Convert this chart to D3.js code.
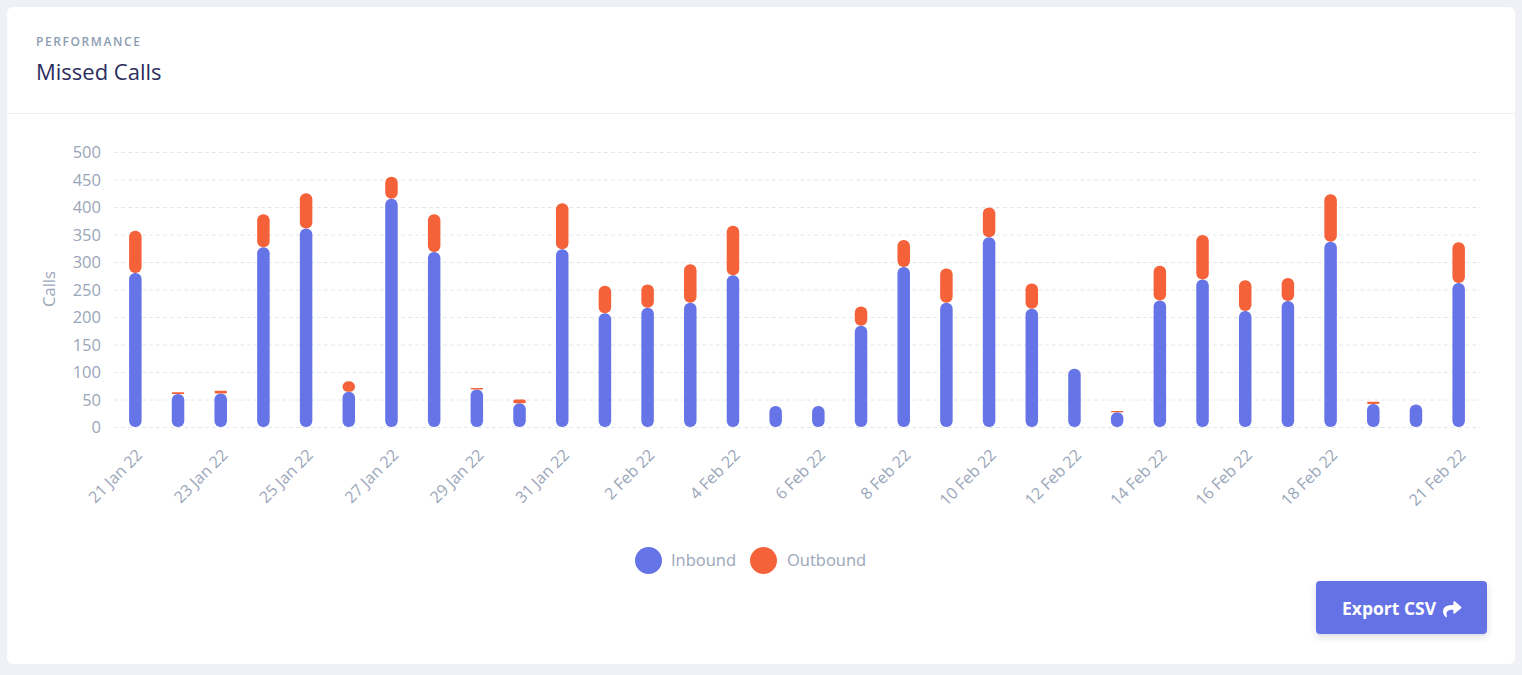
<!DOCTYPE html>
<html>
<head>
<meta charset="utf-8">
<script src="https://cdn.jsdelivr.net/npm/d3@7"></script>
<style>
  html, body { margin: 0; padding: 0; background: #f0f1f7; }
  svg { display: block; font-family: "Open Sans", "Noto Sans", sans-serif; }
</style>
</head>
<body>
<svg id="chart" width="1522" height="675"></svg>
<script>
// ---- data ----
const categories = ["21 Jan 22","22 Jan 22","23 Jan 22","24 Jan 22","25 Jan 22","26 Jan 22","27 Jan 22","28 Jan 22","29 Jan 22","30 Jan 22","31 Jan 22",
  "1 Feb 22","2 Feb 22","3 Feb 22","4 Feb 22","5 Feb 22","6 Feb 22","7 Feb 22","8 Feb 22","9 Feb 22","10 Feb 22","11 Feb 22","12 Feb 22","13 Feb 22","14 Feb 22","15 Feb 22","16 Feb 22","17 Feb 22","18 Feb 22","19 Feb 22","20 Feb 22","21 Feb 22"];
const inbound  = [280, 60, 61, 327, 361, 64, 415, 318, 68, 43, 323, 207, 217, 226, 276, 38, 38, 184, 291, 226, 345, 215, 106, 27, 230, 268, 211, 229, 337, 42, 41, 262];
const outbound = [77, 3, 5, 60, 64, 19, 40, 69, 3, 7, 84, 50, 42, 70, 90, 0, 0, 35, 49, 62, 54, 46, 0, 2, 63, 81, 56, 42, 86, 4, 0, 74];
const xTickLabels = ["21 Jan 22","23 Jan 22","25 Jan 22","27 Jan 22","29 Jan 22","31 Jan 22","2 Feb 22","4 Feb 22","6 Feb 22","8 Feb 22","10 Feb 22","12 Feb 22","14 Feb 22","16 Feb 22","18 Feb 22","21 Feb 22"];
const yTicks = [0, 50, 100, 150, 200, 250, 300, 350, 400, 450, 500];
const seriesNames = ["Inbound", "Outbound"];
const colors = ["#6574e6", "#f5623a"];

// ---- layout ----
const svg = d3.select("#chart");
const plot = { left: 114, right: 1480, top: 152, bottom: 427 };
const barW = 12.5;
const labelColor = "#9aa6b9";

// card
svg.append("rect").attr("x", 7).attr("y", 7).attr("width", 1508).attr("height", 657)
  .attr("rx", 6).attr("fill", "#ffffff");
svg.append("line").attr("x1", 7).attr("x2", 1515).attr("y1", 113.5).attr("y2", 113.5)
  .attr("stroke", "#eceef3").attr("stroke-width", 1);

svg.append("text").attr("x", 36).attr("y", 45.5).text("PERFORMANCE")
  .attr("font-size", 12).attr("font-weight", 600).attr("letter-spacing", "1.6px").attr("fill", "#8e9cb1");
svg.append("text").attr("x", 36).attr("y", 80).text("Missed Calls")
  .attr("font-size", 22).attr("font-weight", 400).attr("fill", "#2b2d5c");

// scales
const x = d3.scaleBand().domain(categories).range([plot.left, plot.right]).padding(0);
const y = d3.scaleLinear().domain([0, 500]).range([plot.bottom, plot.top]);

// grid
svg.append("g").selectAll("line").data(yTicks).join("line")
  .attr("x1", plot.left).attr("x2", plot.right)
  .attr("y1", d => y(d) + 0.5).attr("y2", d => y(d) + 0.5)
  .attr("stroke", "#e6e8ee").attr("stroke-dasharray", "4,3").attr("stroke-width", 1);

// y axis
const yAxis = d3.axisLeft(y).tickValues(yTicks).tickSize(0).tickPadding(0);
const gy = svg.append("g").attr("transform", `translate(101,0)`).call(yAxis);
gy.select(".domain").remove();
gy.selectAll("text").attr("font-size", 16.5).attr("fill", labelColor)
  .attr("font-family", "'Open Sans', sans-serif").attr("dy", "0.34em");

svg.append("text").attr("transform", "translate(55,289) rotate(-90)")
  .attr("text-anchor", "middle").attr("font-size", 16.5).attr("fill", labelColor).text("Calls");

// x axis labels
const xAxis = d3.axisBottom(x).tickValues(xTickLabels).tickSize(0).tickPadding(0);
const gx = svg.append("g").attr("transform", `translate(0,${plot.bottom})`).call(xAxis);
gx.select(".domain").remove();
gx.selectAll(".tick text")
  .attr("font-size", 16).attr("fill", labelColor).attr("font-family", "'Open Sans', sans-serif")
  .attr("text-anchor", "end").attr("y", 0).attr("dy", 0)
  .attr("transform", "translate(8,29) rotate(-45)");

// bars
function roundedRect(g, cx, y0, y1, fill) {
  const h = Math.max(0, y0 - y1);
  if (h <= 0) return;
  const r = Math.min(6, h / 2, barW / 2);
  g.append("rect").attr("x", cx - barW / 2).attr("y", y1).attr("width", barW).attr("height", h)
    .attr("rx", r).attr("ry", r).attr("fill", fill);
}
const bars = svg.append("g");
categories.forEach((c, i) => {
  const cx = x(c) + x.bandwidth() / 2;
  roundedRect(bars, cx, y(0), y(inbound[i]), colors[0]);
  if (outbound[i] > 0) roundedRect(bars, cx, y(inbound[i]), y(inbound[i] + outbound[i]), colors[1]);
});

// legend
const legend = svg.append("g");
const legendItems = [{ name: seriesNames[0], cx: 648.5, tx: 671 }, { name: seriesNames[1], cx: 763.5, tx: 787 }];
legendItems.forEach((d, i) => {
  legend.append("circle").attr("cx", d.cx).attr("cy", 560.5).attr("r", 13.5).attr("fill", colors[i]);
  legend.append("text").attr("x", d.tx).attr("y", 566).attr("font-size", 16.5).attr("fill", labelColor).text(d.name);
});

// export button
const defs = svg.append("defs");
const f = defs.append("filter").attr("id", "shadow").attr("x", "-20%").attr("y", "-30%").attr("width", "140%").attr("height", "180%");
f.append("feDropShadow").attr("dx", 0).attr("dy", 3).attr("stdDeviation", 3).attr("flood-color", "#3a3f6b").attr("flood-opacity", 0.18);
const btn = svg.append("g");
btn.append("rect").attr("x", 1316).attr("y", 581).attr("width", 171).attr("height", 53).attr("rx", 4)
  .attr("fill", "#6572e6").attr("filter", "url(#shadow)");
btn.append("text").attr("x", 1342).attr("y", 615).attr("font-size", 17.5).attr("font-weight", 700)
  .attr("fill", "#ffffff").text("Export CSV");
// share arrow icon
btn.append("path").attr("transform", "translate(1443,600) scale(0.036)")
  .attr("d", "M503.7 189.8L327.7 37.9C312.3 24.6 288 35.4 288 56v80.1C127.4 137.9 0 170.1 0 322.3c0 61.4 39.6 122.3 83.3 154.1 13.7 9.9 33.1-2.5 28.1-18.6C66.1 312.8 132.9 274.3 288 272.1V360c0 20.7 24.3 31.5 39.7 18.2l176-152c11.1-9.6 11.1-26.8 0-36.4z")
  .attr("fill", "#ffffff");
</script>
</body>
</html>
